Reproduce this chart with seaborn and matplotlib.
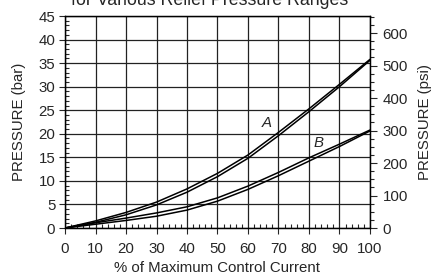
import numpy as np
import pandas as pd
import matplotlib
matplotlib.use("Agg")
import matplotlib.pyplot as plt
import seaborn as sns
from matplotlib.ticker import MultipleLocator

# % of maximum control current
current = [0, 10, 20, 30, 40, 50, 60, 70, 80, 90, 100]
# curve A (two branches, hysteresis)
a_up = [0, 1.5, 3.3, 5.5, 8.3, 11.6, 15.5, 20.3, 25.3, 30.5, 35.8]
a_down = [0, 1.2, 2.8, 4.9, 7.6, 10.9, 14.8, 19.6, 24.7, 30.0, 35.6]
# curve B
b_up = [0, 1.1, 2.1, 3.2, 4.5, 6.4, 8.9, 11.8, 14.9, 17.8, 20.8]
b_down = [0, 0.8, 1.6, 2.5, 3.8, 5.7, 8.2, 11.1, 14.2, 17.3, 20.6]

BAR_TO_PSI = 14.5038
FS = 10.8


def build_frame():
    parts = []
    for name, vals in [("A up", a_up), ("A down", a_down), ("B up", b_up), ("B down", b_down)]:
        parts.append(pd.DataFrame({"current": current, "pressure": vals, "curve": name}))
    return pd.concat(parts, ignore_index=True)


def plot_chart(df):
    sns.set_style("ticks")
    plt.rcParams["font.family"] = ["Liberation Sans", "DejaVu Sans"]
    fig, ax = plt.subplots(figsize=(4.35, 2.76), dpi=100)
    fig.subplots_adjust(left=65 / 435, right=370 / 435, bottom=1 - 228 / 276, top=1 - 16 / 276)

    sns.lineplot(data=df, x="current", y="pressure", hue="curve", units="curve",
                 estimator=None, palette=["black"] * 4, linewidth=1.1, legend=False, ax=ax)

    ax.set_xlim(0, 100)
    ax.set_ylim(0, 45)
    ax.xaxis.set_major_locator(MultipleLocator(10))
    ax.xaxis.set_minor_locator(MultipleLocator(2))
    ax.yaxis.set_major_locator(MultipleLocator(5))
    ax.yaxis.set_minor_locator(MultipleLocator(1))
    ax.grid(True, which="major", color="#222222", linewidth=0.9)
    ax.tick_params(which="major", direction="out", length=4, width=0.8, labelsize=FS, pad=3)
    ax.tick_params(axis="x", which="major", pad=6)
    ax.tick_params(which="minor", direction="in", length=3, width=0.8)
    for s in ax.spines.values():
        s.set_visible(True)
        s.set_color("black")
        s.set_linewidth(0.9)

    ax.set_xlabel("% of Maximum Control Current", fontsize=FS, labelpad=4)
    ax.set_ylabel("PRESSURE (bar)", fontsize=FS, labelpad=9)

    ax2 = ax.twinx()
    ax2.set_ylim(0, 45 * BAR_TO_PSI)
    ax2.yaxis.set_major_locator(MultipleLocator(100))
    ax2.yaxis.set_minor_locator(MultipleLocator(25))
    ax2.tick_params(which="major", direction="out", length=5, width=0.8, labelsize=FS, pad=4)
    ax2.tick_params(which="minor", direction="out", length=3, width=0.8)
    ax2.set_ylabel("PRESSURE (psi)", fontsize=FS, labelpad=7)
    for s in ax2.spines.values():
        s.set_visible(True)
        s.set_color("black")
        s.set_linewidth(0.9)

    ax.text(66, 22.3, "A", fontsize=FS, style="italic", ha="center", va="center")
    ax.text(83, 18.1, "B", fontsize=FS, style="italic", ha="center", va="center")

    # title is partly off the top edge, as in the source image
    fig.text(210 / 435, 1 - 5 / 276, "for Various Relief Pressure Ranges",
             fontsize=12.8, ha="center", va="baseline")

    fig.savefig("out.png", dpi=100)


if __name__ == "__main__":
    df = build_frame()
    plot_chart(df)
